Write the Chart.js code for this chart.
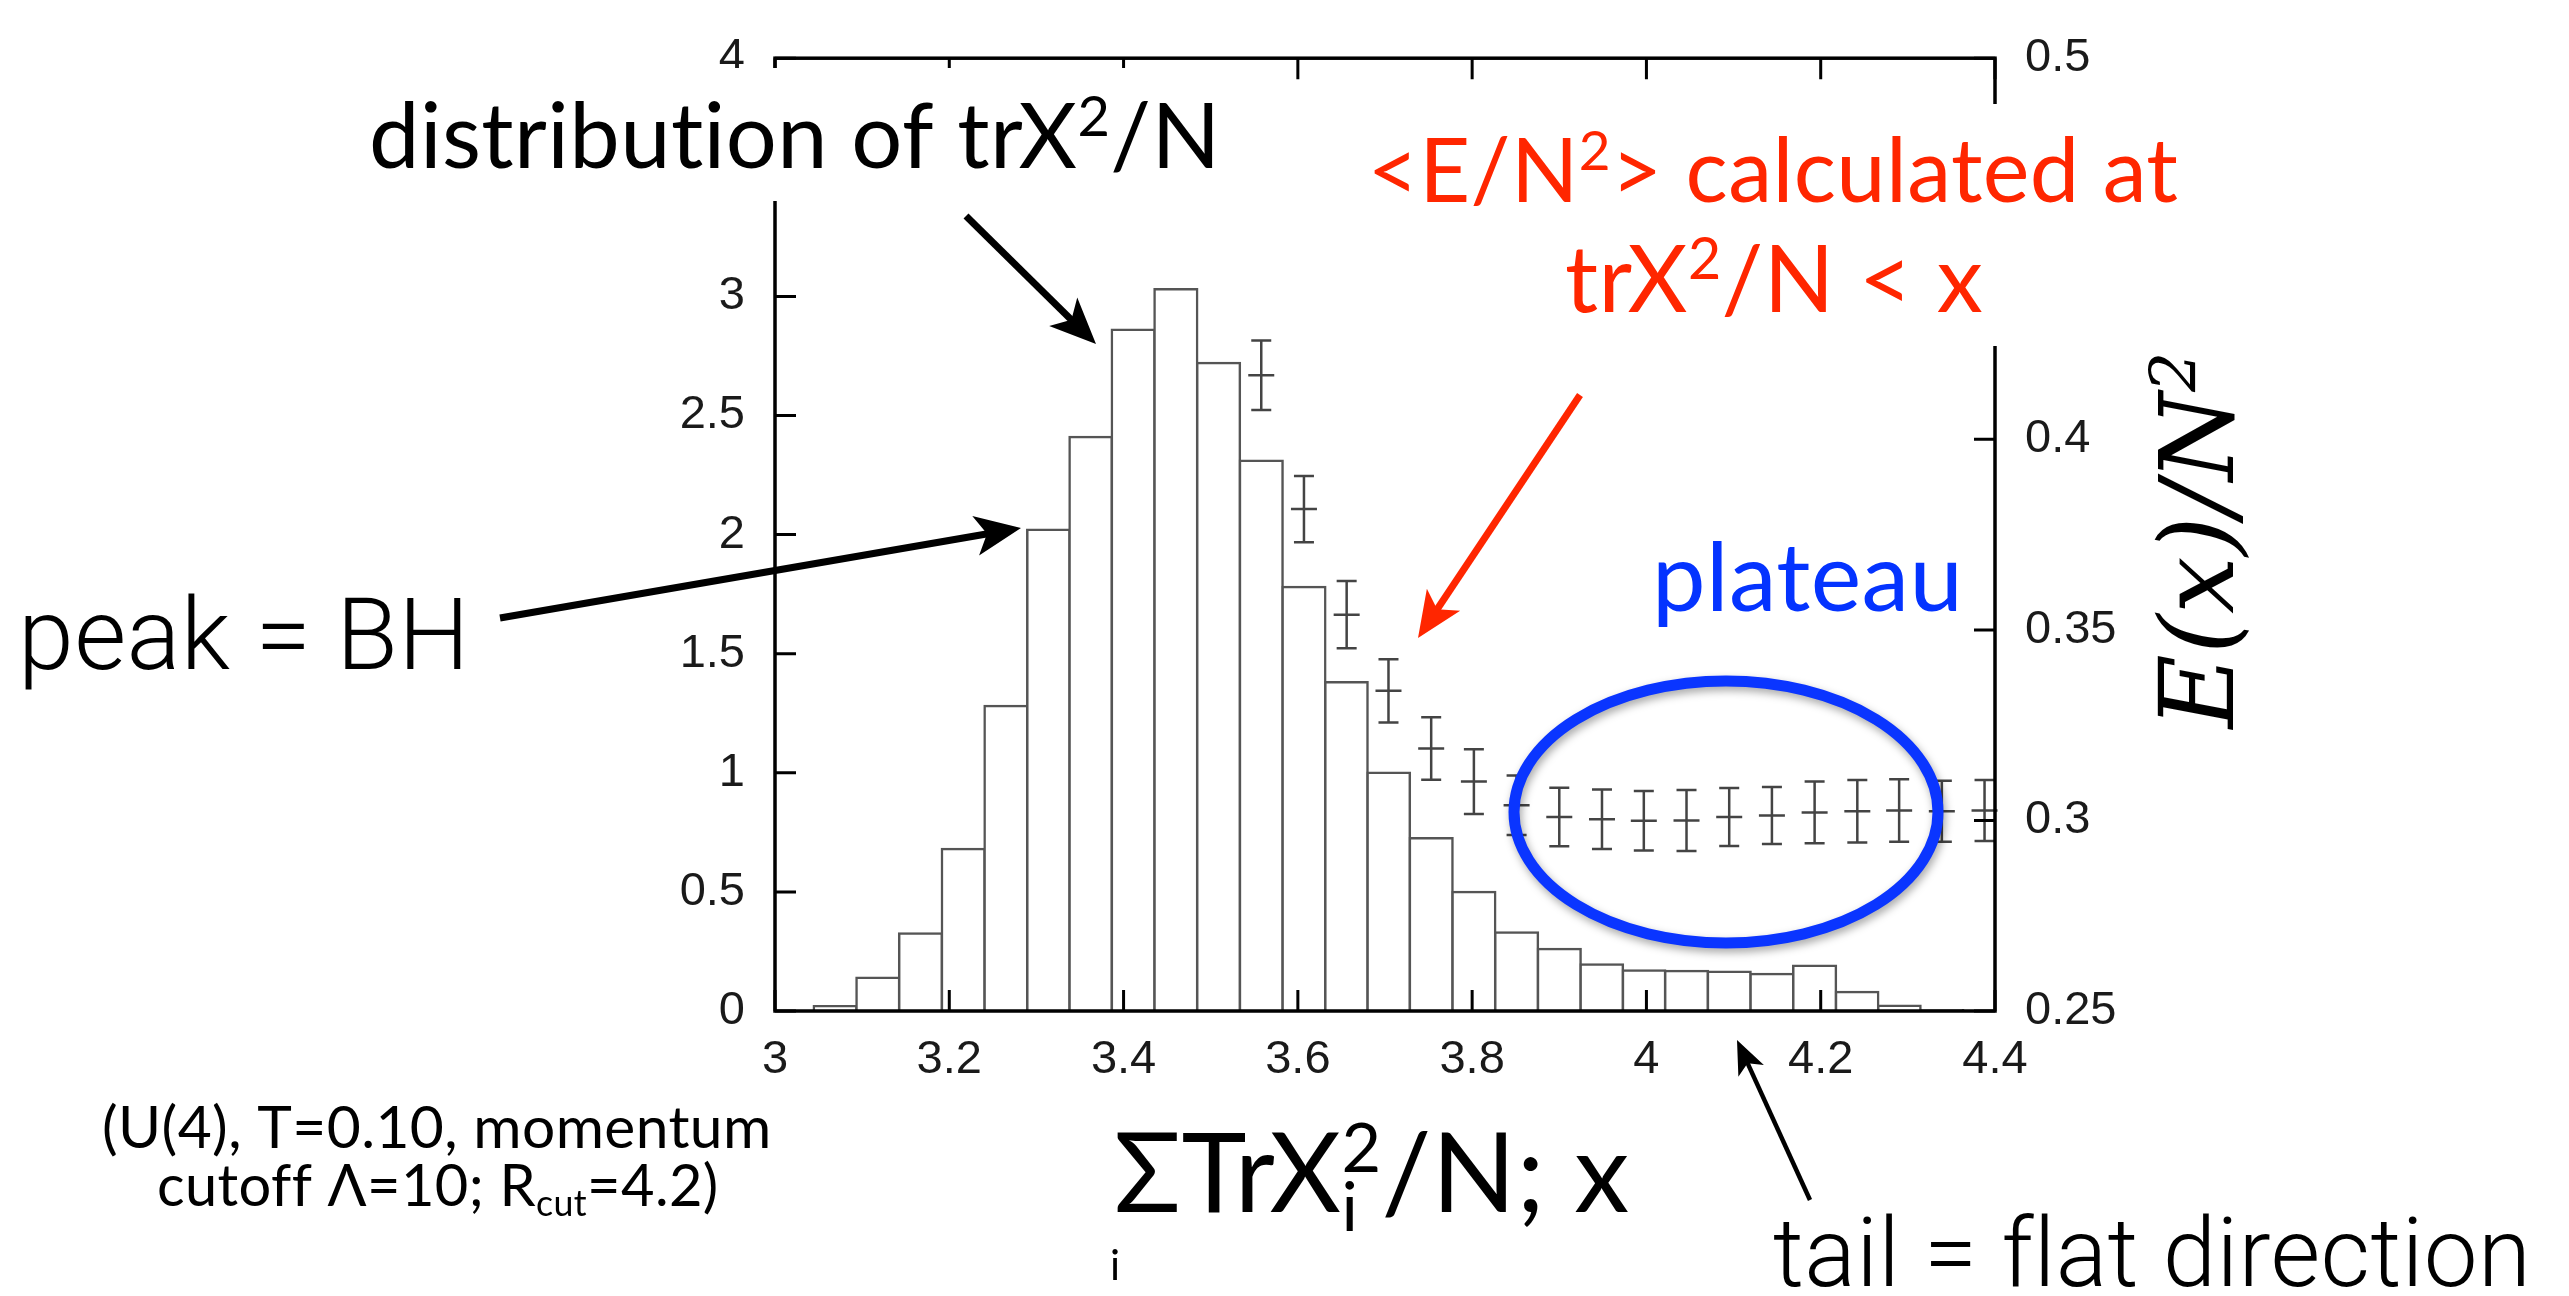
<!DOCTYPE html>
<html>
<head>
<meta charset="utf-8">
<script src="https://cdn.jsdelivr.net/npm/chart.js@4.4.1/dist/chart.umd.min.js"></script>
<style>
    html, body { margin: 0; padding: 0; background: #ffffff; }
    #wrap { width: 2569px; height: 1296px; }
</style>
</head>
<body>
<div id="wrap"><canvas id="histChart" width="2569" height="1296"></canvas></div>
<script>
// Histogram of trX^2/N : bin centres and normalised heights (left axis)
const binCenters = [3.069, 3.118, 3.167, 3.216, 3.265, 3.314, 3.362, 3.411, 3.460, 3.509,
                    3.558, 3.607, 3.656, 3.704, 3.753, 3.802, 3.851, 3.900, 3.949, 3.997,
                    4.046, 4.095, 4.144, 4.193, 4.242, 4.290, 4.339];
const binHeights = [0.02, 0.14, 0.325, 0.68, 1.28, 2.02, 2.41, 2.86, 3.03, 2.72,
                    2.31, 1.78, 1.38, 1.00, 0.725, 0.50, 0.33, 0.26, 0.195, 0.17,
                    0.168, 0.165, 0.155, 0.19, 0.08, 0.022, 0.003];

// <E/N^2> calculated at trX^2/N < x, with error bars (right axis)
const energyX = [3.558, 3.607, 3.656, 3.704, 3.753, 3.802, 3.851, 3.900, 3.949,
                 3.997, 4.046, 4.095, 4.144, 4.193, 4.242, 4.290, 4.339, 4.388];
const energyY = [0.4168, 0.3817, 0.3540, 0.3340, 0.3189, 0.3102, 0.3040, 0.3009, 0.3003,
                 0.2999, 0.3000, 0.3009, 0.3013, 0.3021, 0.3024, 0.3026, 0.3024, 0.3026];
const energyErr = [0.0091, 0.0087, 0.0088, 0.0083, 0.0082, 0.0085, 0.0078, 0.0077, 0.0078,
                   0.0078, 0.0080, 0.0076, 0.0075, 0.0081, 0.0082, 0.0082, 0.0080, 0.0080];

// Ticks and their labels
const xTicks = [3, 3.2, 3.4, 3.6, 3.8, 4, 4.2, 4.4];
const xTickLabels = ['3', '3.2', '3.4', '3.6', '3.8', '4', '4.2', '4.4'];
const yTicks = [0, 0.5, 1, 1.5, 2, 2.5, 3, 3.5, 4];
const yTickLabels = ['0', '0.5', '1', '1.5', '2', '2.5', '3', '3.5', '4'];
const y2Ticks = [0.25, 0.3, 0.35, 0.4, 0.45, 0.5];
const y2TickLabels = ['0.25', '0.3', '0.35', '0.4', '0.45', '0.5'];

const TICK_LEN = 21;
const RED = '#ff2600';
const BLUE = '#0433ff';
const TICK_FONT = { family: 'Liberation Sans', size: 47 };

const gill = s => `${s}px Lato`;
const helvLight = s => `300 ${s}px Roboto`;
const serifIt = s => `italic ${s}px "DejaVu Serif"`;

// width of one piece of rich text (plain, superscript, subscript or both stacked)
function partWidth(c, p, size, fam) {
    if (!p.sup && !p.sub) {
        c.font = fam(size);
        return c.measureText(p.t).width;
    }
    c.font = fam(size * 0.62);
    const a = p.sub ? c.measureText(p.sub).width : 0;
    const b = p.sup ? c.measureText(p.sup).width : 0;
    return Math.max(a, b);
}

// draws text with sup/sub pieces; sized to span opt.width,
// or drawn at opt.size and squeezed to opt.width when both are given
function drawRich(c, parts, opt) {
    c.save();
    c.letterSpacing = '0.4px';   // also keeps "ti" from turning into a ligature
    const base = 100;
    let size = opt.size;
    if (!size) {
        const w100 = parts.reduce((s, p) => s + partWidth(c, p, base, opt.fam), 0);
        size = base * opt.width / w100;
    }
    let total = parts.reduce((s, p) => s + partWidth(c, p, size, opt.fam), 0);
    let sx = 1;
    if (opt.size && opt.width) sx = opt.width / total;
    let x0 = opt.align === 'center' ? opt.x - total * sx / 2 : opt.x;
    c.translate(x0, opt.y);
    c.scale(sx, 1);
    let cx = 0;
    c.fillStyle = opt.color;
    c.textAlign = 'left';
    c.textBaseline = 'alphabetic';
    parts.forEach(p => {
        const w = partWidth(c, p, size, opt.fam);
        if (!p.sup && !p.sub) {
            c.font = opt.fam(size);
            c.fillText(p.t, cx, 0);
        } else {
            c.font = opt.fam(size * 0.62);
            if (p.sup) c.fillText(p.sup, cx, -size * 0.36);
            if (p.sub) c.fillText(p.sub, cx, size * 0.17);
        }
        cx += w;
    });
    c.restore();
}

// straight arrow with a notched head
function arrow(c, x1, y1, x2, y2, color, width, headLen, headHalf) {
    const dx = x2 - x1, dy = y2 - y1;
    const len = Math.hypot(dx, dy);
    const ux = dx / len, uy = dy / len;
    const nx = -uy, ny = ux;
    c.strokeStyle = color;
    c.fillStyle = color;
    c.lineWidth = width;
    c.lineCap = 'butt';
    c.beginPath();
    c.moveTo(x1, y1);
    c.lineTo(x2 - ux * headLen * 0.7, y2 - uy * headLen * 0.7);
    c.stroke();
    c.beginPath();
    c.moveTo(x2, y2);
    c.lineTo(x2 - ux * headLen + nx * headHalf, y2 - uy * headLen + ny * headHalf);
    c.lineTo(x2 - ux * headLen * 0.75, y2 - uy * headLen * 0.75);
    c.lineTo(x2 - ux * headLen - nx * headHalf, y2 - uy * headLen - ny * headHalf);
    c.closePath();
    c.fill();
}

const overlay = {
    id: 'overlay',
    afterDraw(chart) {
        const c = chart.ctx;
        const {left, right, top, bottom} = chart.chartArea;
        const sx = chart.scales.x, sy = chart.scales.y, sy1 = chart.scales.y1;
        c.save();

        // error bars of <E/N^2>
        c.strokeStyle = '#444444';
        c.lineWidth = 2.5;
        energyX.forEach((xv, i) => {
            const px = sx.getPixelForValue(xv);
            const pm = sy1.getPixelForValue(energyY[i]);
            const pt = sy1.getPixelForValue(energyY[i] + energyErr[i]);
            const pb = sy1.getPixelForValue(energyY[i] - energyErr[i]);
            c.beginPath();
            c.moveTo(px, pt); c.lineTo(px, pb);
            c.moveTo(px - 10, pt); c.lineTo(px + 10, pt);
            c.moveTo(px - 10, pb); c.lineTo(px + 10, pb);
            c.moveTo(px - 13, pm); c.lineTo(px + 13, pm);
            c.stroke();
        });

        // frame and inward ticks
        c.strokeStyle = '#000000';
        c.lineWidth = 3.5;
        c.strokeRect(left, top, right - left, bottom - top);
        c.lineWidth = 3;
        c.beginPath();
        xTicks.forEach(v => {
            const px = sx.getPixelForValue(v);
            c.moveTo(px, bottom); c.lineTo(px, bottom - TICK_LEN);
            c.moveTo(px, top); c.lineTo(px, top + TICK_LEN);
        });
        yTicks.forEach(v => {
            const py = sy.getPixelForValue(v);
            c.moveTo(left, py); c.lineTo(left + TICK_LEN, py);
        });
        y2Ticks.forEach(v => {
            const py = sy1.getPixelForValue(v);
            c.moveTo(right, py); c.lineTo(right - TICK_LEN, py);
        });
        c.stroke();

        // white backgrounds of the pasted captions (hide parts of the frame)
        c.fillStyle = '#ffffff';
        c.fillRect(355, 68, 880, 133);
        c.fillRect(1350, 104, 850, 242);

        // captions
        drawRich(c, [{t: 'distribution of trX'}, {sup: '2'}, {t: '/N'}],
            {x: 369, y: 168, width: 851, color: '#000000', fam: gill});
        drawRich(c, [{t: '<E/N'}, {sup: '2'}, {t: '> calculated at'}],
            {x: 1773, y: 202, width: 810, align: 'center', color: RED, fam: gill});
        drawRich(c, [{t: 'trX'}, {sup: '2'}, {t: '/N < x'}],
            {x: 1774, y: 312, width: 418, align: 'center', color: RED, fam: gill});
        drawRich(c, [{t: 'peak = BH'}],
            {x: 18, y: 669, width: 452, color: '#000000', fam: helvLight});
        drawRich(c, [{t: 'plateau'}],
            {x: 1652, y: 611, width: 311, color: BLUE, fam: gill});
        drawRich(c, [{t: 'tail = flat direction'}],
            {x: 1773, y: 1286, width: 758, color: '#000000', fam: helvLight});
        drawRich(c, [{t: '(U(4), T=0.10, momentum'}],
            {x: 102, y: 1148, width: 666, color: '#000000', fam: gill});
        drawRich(c, [{t: 'cutoff \u039B=10; R'}, {sub: 'cut'}, {t: '=4.2)'}],
            {x: 157, y: 1206, width: 558, color: '#000000', fam: gill});

        // x axis title
        drawRich(c, [{t: '\u03A3TrX'}, {sub: 'i', sup: '2'}, {t: '/N; x'}],
            {x: 1114, y: 1212, width: 516, color: '#000000', fam: gill});
        drawRich(c, [{t: 'i'}], {x: 1110, y: 1280, size: 42, color: '#000000', fam: gill});

        // right axis title, reading upwards
        c.save();
        c.translate(2233, 540);
        c.rotate(-Math.PI / 2);
        drawRich(c, [{t: 'E(x)/N'}, {sup: '2'}],
            {x: 0, y: 0, size: 102, width: 377, align: 'center', color: '#000000', fam: serifIt});
        c.restore();

        // arrows
        arrow(c, 966, 216, 1096, 344, '#000000', 7, 46, 20);
        arrow(c, 500, 618, 1021, 528, '#000000', 7, 46, 20);
        arrow(c, 1580, 395, 1418, 638, RED, 7, 46, 20);
        arrow(c, 1810, 1200, 1737, 1040, '#000000', 4.5, 34, 14);

        // plateau ellipse
        c.shadowColor = 'rgba(0, 0, 0, 0.35)';
        c.shadowBlur = 8;
        c.shadowOffsetX = 2;
        c.shadowOffsetY = 4;
        c.strokeStyle = '#0a35ff';
        c.lineWidth = 11;
        c.beginPath();
        c.ellipse(1726, 812, 212, 131, 0, 0, Math.PI * 2);
        c.stroke();

        c.restore();
    }
};

const ctx = document.getElementById('histChart').getContext('2d');
const chart = new Chart(ctx, {
    type: 'bar',
    data: {
        datasets: [
            {
                label: 'distribution of trX^2/N',
                data: binCenters.map((x, i) => ({x: x, y: binHeights[i]})),
                backgroundColor: '#ffffff',
                borderColor: '#555555',
                borderWidth: 2.5,
                inflateAmount: 1.25,
                barThickness: 'flex',
                barPercentage: 1,
                categoryPercentage: 1,
                yAxisID: 'y'
            },
            {
                type: 'line',
                label: '<E/N^2>',
                data: energyX.map((x, i) => ({x: x, y: energyY[i]})),
                showLine: false,
                pointRadius: 0,
                yAxisID: 'y1'
            }
        ]
    },
    options: {
        responsive: false,
        animation: false,
        devicePixelRatio: 1,
        layout: { padding: { top: 36, left: 0, right: 0, bottom: 0 } },
        plugins: {
            legend: { display: false },
            tooltip: { enabled: false }
        },
        scales: {
            x: {
                type: 'linear',
                min: 3,
                max: 4.4,
                offset: false,
                grid: { display: false, drawTicks: false },
                border: { display: false },
                afterBuildTicks: scale => { scale.ticks = xTicks.map(v => ({value: v})); },
                afterFit: scale => { scale.height = 285; },
                ticks: {
                    autoSkip: false,
                    maxRotation: 0,
                    padding: 21,
                    color: '#1a1a1a',
                    font: TICK_FONT,
                    callback: (value, i) => xTickLabels[i]
                }
            },
            y: {
                position: 'left',
                min: 0,
                max: 4,
                grid: { display: false, drawTicks: false },
                border: { display: false },
                afterBuildTicks: scale => { scale.ticks = yTicks.map(v => ({value: v})); },
                afterFit: scale => { scale.width = 775; },
                ticks: {
                    padding: 30,
                    color: '#1a1a1a',
                    font: TICK_FONT,
                    callback: (value, i) => yTickLabels[i]
                }
            },
            y1: {
                position: 'right',
                min: 0.25,
                max: 0.5,
                grid: { display: false, drawTicks: false },
                border: { display: false },
                afterBuildTicks: scale => { scale.ticks = y2Ticks.map(v => ({value: v})); },
                afterFit: scale => { scale.width = 574; },
                ticks: {
                    padding: 30,
                    color: '#1a1a1a',
                    font: TICK_FONT,
                    callback: (value, i) => y2TickLabels[i]
                }
            }
        }
    },
    plugins: [overlay]
});
</script>
</body>
</html>
